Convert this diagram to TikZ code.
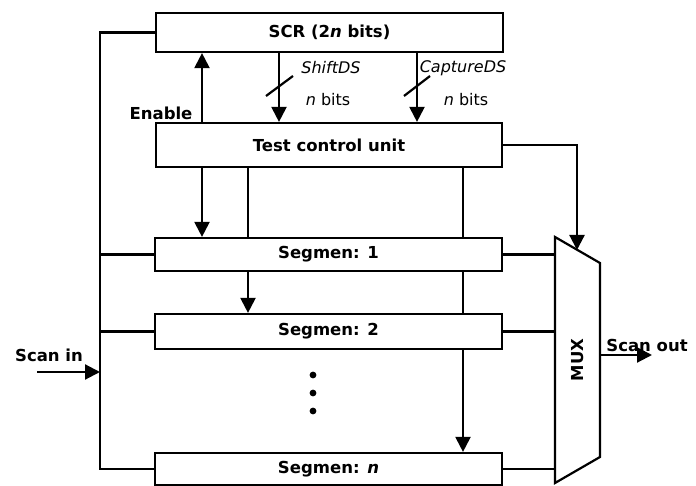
\documentclass[tikz,border=0pt]{standalone}
\usepackage{fontspec}
\setmainfont{DejaVu Sans}
\usetikzlibrary{arrows.meta}
\tikzset{
  box/.style={draw, line width=2.2pt, rectangle, inner sep=0pt, fill=white,
    font=\fontsize{16.5}{19}\selectfont\bfseries},
  wire/.style={line width=2.2pt},
  arr/.style={line width=2.2pt, -{Triangle[length=15pt,width=15pt]}},
  lbl/.style={inner sep=0pt, font=\fontsize{16.5}{19}\selectfont\bfseries},
  ilbl/.style={inner sep=0pt, font=\fontsize{16}{19}\selectfont\itshape},
  rlbl/.style={inner sep=0pt, font=\fontsize{16}{19}\selectfont},
}
\begin{document}
\begin{tikzpicture}[x=1pt,y=-1pt]
\useasboundingbox (0,0) rectangle (696,486);
% x positions
\coordinate (xen) at (202,0);
\coordinate (xsh) at (279,0);
\coordinate (xcap) at (417,0);
\coordinate (xb) at (248,0);
\coordinate (xc) at (463,0);
\coordinate (xbus) at (100,0);
\coordinate (muxL) at (555,0);
% boxes
\node[box, minimum width=347pt, minimum height=39pt] (scr) at (329.5,32.5) {SCR (2\textit{n} bits)};
\node[box, minimum width=346pt, minimum height=44pt] (tcu) at (329,145) {Test control unit};
\node[box, minimum width=347pt, minimum height=33pt] (seg1) at (328.5,254.5) {Segmen: 1};
\node[box, minimum width=347pt, minimum height=35pt] (seg2) at (328.5,331.5) {Segmen: 2};
\node[box, minimum width=347pt, minimum height=32pt] (segn) at (328.5,469) {Segmen: \textit{n}};
% MUX
\coordinate (m1) at (555,237);
\coordinate (m2) at (600,263);
\coordinate (m3) at (600,457);
\coordinate (m4) at (555,483);
\draw[wire, line join=miter] (m1) -- (m2) -- (m3) -- (m4) -- cycle;
\node[lbl, rotate=90] (mux) at (578,360) {MUX};
\coordinate (muxtop) at (577,250);
\coordinate (muxout) at (600,355);
\coordinate (outend) at (652,355);
% left bus
\draw[wire] (scr.west) -| (segn.west -| xbus) -- (segn.west);
\draw[wire] (seg1.west) -- (seg1.west -| xbus);
\draw[wire] (seg2.west) -- (seg2.west -| xbus);
\coordinate (inStart) at (37,372);
\draw[arr] (inStart) -- (inStart -| xbus);
\node[lbl] (scanin) at (49,355) {Scan in};
% SCR <-> TCU
\draw[arr] (tcu.north -| xen) -- (scr.south -| xen);
\draw[arr] (scr.south -| xsh) -- (tcu.north -| xsh);
\draw[arr] (scr.south -| xcap) -- (tcu.north -| xcap);
\draw[wire] (266,96) -- (293,76);
\draw[wire] (404,96) -- (430,76);
\node[lbl] (enable) at (161,113) {Enable};
\node[ilbl] (shift) at (331,68) {ShiftDS};
\node[rlbl] (nb1) at (328,100) {\textit{n} bits};
\node[ilbl] (capt) at (463,68) {CaptureDS};
\node[rlbl] (nb2) at (466,100) {\textit{n} bits};
% TCU -> segments
\draw[arr] (tcu.south -| xen) -- (seg1.north -| xen);
\draw[wire] (tcu.south -| xb) -- (seg1.north -| xb);
\draw[arr] (seg1.south -| xb) -- (seg2.north -| xb);
\draw[wire] (tcu.south -| xc) -- (seg1.north -| xc);
\draw[wire] (seg1.south -| xc) -- (seg2.north -| xc);
\draw[arr] (seg2.south -| xc) -- (segn.north -| xc);
% dots
\fill (313,375) circle (3.4pt);
\fill (313,393) circle (3.4pt);
\fill (313,411) circle (3.4pt);
% TCU -> MUX
\draw[arr] (tcu.east) -| (muxtop);
% segments -> MUX
\draw[wire] (seg1.east) -- (seg1.east -| muxL);
\draw[wire] (seg2.east) -- (seg2.east -| muxL);
\draw[wire] (segn.east) -- (segn.east -| muxL);
% scan out
\draw[arr] (muxout) -- (outend);
\node[lbl] (scanout) at (647,345) {Scan out};
\end{tikzpicture}
\end{document}
